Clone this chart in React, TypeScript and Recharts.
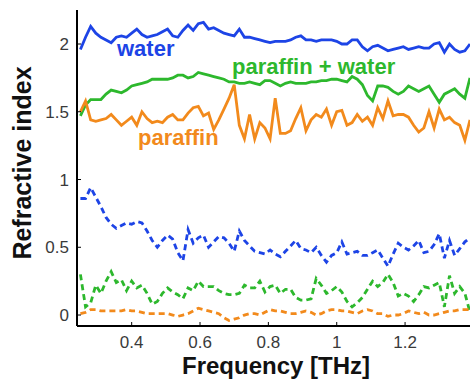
import { LineChart, Line, XAxis, YAxis } from "recharts";

const freq = [
  0.25, 0.265, 0.28, 0.295, 0.31, 0.325, 0.34, 0.355, 0.37, 0.385,
  0.4, 0.415, 0.43, 0.445, 0.46, 0.475, 0.49, 0.505, 0.52, 0.535,
  0.55, 0.565, 0.58, 0.595, 0.61, 0.625, 0.64, 0.655, 0.67, 0.685,
  0.7, 0.715, 0.73, 0.745, 0.76, 0.775, 0.79, 0.805, 0.82, 0.835,
  0.85, 0.865, 0.88, 0.895, 0.91, 0.925, 0.94, 0.955, 0.97, 0.985,
  1.0, 1.015, 1.03, 1.045, 1.06, 1.075, 1.09, 1.105, 1.12, 1.135,
  1.15, 1.165, 1.18, 1.195, 1.21, 1.225, 1.24, 1.255, 1.27, 1.285,
  1.3, 1.315, 1.33, 1.345, 1.36, 1.375, 1.39,
];

// real part (solid)
const water = [
  1.96, 2.05, 2.13, 2.08, 2.05, 2.03, 2.01, 2.05, 2.06, 2.05,
  2.08, 2.11, 2.07, 2.05, 2.06, 2.07, 2.09, 2.11, 2.06, 2.05,
  2.1, 2.14, 2.1, 2.15, 2.16, 2.11, 2.12, 2.1, 2.08, 2.07,
  2.06, 2.11, 2.05, 2.05, 2.04, 2.03, 2.02, 2.01, 2.02, 2.02,
  2.02, 2.03, 2.05, 2.06, 2.03, 2.03, 2.02, 2.03, 2.03, 2.03,
  2.02, 2.0, 2.0, 2.03, 2.03, 1.98, 1.95, 1.98, 1.99, 1.97,
  1.95, 1.96, 1.97, 1.98, 1.96, 1.97, 1.98, 1.97, 1.97, 2.0,
  2.01, 1.94, 2.0, 1.96, 1.94, 1.95, 2.0,
];
const paraffinWater = [
  1.47, 1.55, 1.59, 1.59, 1.59, 1.63, 1.66, 1.65, 1.64, 1.66,
  1.69, 1.7, 1.71, 1.72, 1.74, 1.74, 1.74, 1.74, 1.75, 1.77,
  1.77, 1.75, 1.76, 1.79, 1.78, 1.77, 1.76, 1.75, 1.74, 1.72,
  1.72, 1.71, 1.71, 1.72, 1.71, 1.7, 1.73, 1.73, 1.71, 1.69,
  1.71, 1.72, 1.71, 1.71, 1.71, 1.72, 1.72, 1.73, 1.73, 1.74,
  1.74, 1.73, 1.72, 1.76, 1.74, 1.7, 1.62, 1.58, 1.69, 1.69,
  1.68, 1.65, 1.63, 1.65, 1.69, 1.67, 1.65, 1.67, 1.69, 1.63,
  1.57, 1.63, 1.65, 1.67, 1.63, 1.6, 1.75,
];
const paraffin = [
  1.5, 1.58, 1.44, 1.43, 1.44, 1.45, 1.48, 1.44, 1.4, 1.43,
  1.46, 1.4, 1.5, 1.45, 1.42, 1.43, 1.42, 1.46, 1.48, 1.44,
  1.44, 1.49, 1.53, 1.54, 1.47, 1.49, 1.37, 1.44, 1.52, 1.6,
  1.7, 1.4, 1.3, 1.48, 1.3, 1.42, 1.38, 1.3, 1.6, 1.34,
  1.34, 1.36, 1.45, 1.53, 1.36, 1.44, 1.48, 1.46, 1.52, 1.4,
  1.5, 1.51, 1.4, 1.42, 1.48, 1.43, 1.46, 1.4, 1.53, 1.45,
  1.58, 1.47, 1.48, 1.48, 1.46, 1.4, 1.35, 1.38, 1.5, 1.38,
  1.52, 1.44, 1.46, 1.42, 1.4, 1.29, 1.44,
];

// dashed
const waterK = [
  0.86, 0.86, 0.94, 0.87, 0.8, 0.72, 0.67, 0.64, 0.66, 0.68,
  0.67, 0.69, 0.68, 0.62, 0.55, 0.5, 0.55, 0.59, 0.56, 0.46,
  0.4, 0.63, 0.53, 0.57, 0.59, 0.5, 0.54, 0.58, 0.57, 0.53,
  0.47, 0.62, 0.55, 0.51, 0.47, 0.46, 0.45, 0.48, 0.45, 0.43,
  0.47, 0.51, 0.55, 0.49, 0.48, 0.46, 0.5, 0.44, 0.39, 0.44,
  0.46, 0.54, 0.45, 0.46, 0.47, 0.44, 0.44, 0.46, 0.48, 0.42,
  0.36, 0.45, 0.53, 0.5, 0.48, 0.51, 0.55, 0.46, 0.47, 0.52,
  0.6, 0.42, 0.55, 0.44, 0.49, 0.54, 0.57,
];
const paraffinWaterK = [
  0.3, 0.06, 0.09, 0.22, 0.16, 0.25, 0.32, 0.24, 0.26, 0.18,
  0.25, 0.2, 0.22, 0.16, 0.08, 0.1, 0.16, 0.2, 0.17, 0.15,
  0.12, 0.2, 0.18, 0.25, 0.21, 0.21, 0.21, 0.18, 0.16, 0.15,
  0.15, 0.16, 0.22, 0.2, 0.2, 0.25, 0.17, 0.21, 0.22, 0.16,
  0.19, 0.19, 0.13, 0.11, 0.11, 0.12, 0.27, 0.22, 0.16, 0.18,
  0.21, 0.17, 0.1, 0.06, 0.09, 0.13, 0.19, 0.25, 0.21, 0.24,
  0.3, 0.24, 0.14, 0.16, 0.14, 0.1, 0.15, 0.21, 0.2, 0.22,
  0.24, 0.06, 0.29, 0.16, 0.21, 0.16, 0.02,
];
const paraffinK = [
  0.01, 0.02, 0.04, 0.04, 0.03, 0.03, 0.03, 0.03, 0.03, 0.04,
  0.03, 0.03, 0.02, 0.01, 0.01, 0.01, 0.01, 0.01, 0.0, -0.01,
  0.0, 0.01, 0.03, 0.05, 0.04, 0.03, 0.02, 0.01, -0.02, -0.04,
  -0.03, -0.02, 0.0, 0.01, 0.01, 0.0, 0.02, 0.04, 0.03, 0.03,
  0.02, 0.01, 0.01, 0.02, 0.03, 0.02, 0.0, 0.01, 0.03, 0.04,
  0.04, 0.03, 0.03, 0.02, 0.01, 0.03, 0.04, 0.03, 0.01, 0.01,
  -0.01, 0.0, 0.0, 0.01, 0.03, 0.02, 0.01, 0.02, 0.0, 0.0,
  0.01, 0.02, 0.03, 0.03, 0.04, 0.04, 0.04,
];

const xTicks = [0.4, 0.6, 0.8, 1, 1.2];
const yTicks = [0, 0.5, 1, 1.5, 2];

const BLUE = "#1d44e6";
const GREEN = "#2db82d";
const ORANGE = "#f28a1c";
const FONT = "'Liberation Sans', Arial, sans-serif";

const data = freq.map((f, i) => ({
  f,
  water: water[i],
  paraffinWater: paraffinWater[i],
  paraffin: paraffin[i],
  waterK: waterK[i],
  paraffinWaterK: paraffinWaterK[i],
  paraffinK: paraffinK[i],
}));

const tickStyle = { fontSize: 17, fill: "#3a3a3a", fontFamily: FONT };

export default function App() {
  return (
    <div style={{ position: "absolute", left: 0, top: 0 }}>
      <LineChart width={470} height={384} data={data} margin={{ top: 10, right: 0, bottom: 0, left: 0 }}>
        <XAxis
          dataKey="f"
          type="number"
          domain={[0.24, 1.39]}
          ticks={xTicks}
          allowDataOverflow
          height={58}
          tick={tickStyle}
          tickSize={-4}
          tickMargin={14}
          axisLine={{ stroke: "#000", strokeWidth: 2 }}
          tickLine={{ stroke: "#000" }}
        />
        <XAxis
          xAxisId="top"
          dataKey="f"
          type="number"
          domain={[0.24, 1.39]}
          orientation="top"
          height={0}
          tick={false}
          tickLine={false}
          axisLine={{ stroke: "#000", strokeWidth: 2 }}
        />
        <YAxis
          type="number"
          domain={[-0.081, 2.251]}
          ticks={yTicks}
          allowDataOverflow
          width={77}
          tick={tickStyle}
          tickSize={-4}
          tickMargin={12}
          axisLine={{ stroke: "#000", strokeWidth: 2 }}
          tickLine={{ stroke: "#000" }}
        />
        <Line dataKey="water" stroke={BLUE} strokeWidth={2.8} dot={false} isAnimationActive={false} />
        <Line dataKey="paraffinWater" stroke={GREEN} strokeWidth={2.8} dot={false} isAnimationActive={false} />
        <Line dataKey="paraffin" stroke={ORANGE} strokeWidth={2.8} dot={false} isAnimationActive={false} />
        <Line dataKey="waterK" stroke={BLUE} strokeWidth={2.8} strokeDasharray="6 4" dot={false} isAnimationActive={false} />
        <Line dataKey="paraffinWaterK" stroke={GREEN} strokeWidth={2.8} strokeDasharray="6 4" dot={false} isAnimationActive={false} />
        <Line dataKey="paraffinK" stroke={ORANGE} strokeWidth={2.8} strokeDasharray="6 4" dot={false} isAnimationActive={false} />
        <text x={117} y={56} fill={BLUE} fontSize={22} fontWeight="bold" fontFamily={FONT}>water</text>
        <text x={232} y={74} fill={GREEN} fontSize={22} fontWeight="bold" fontFamily={FONT}>paraffin + water</text>
        <text x={138} y={145} fill={ORANGE} fontSize={22} fontWeight="bold" fontFamily={FONT}>paraffin</text>
        <text x={276} y={374} textAnchor="middle" fill="#111" fontSize={24} fontWeight="bold" fontFamily={FONT}>
          Frequency [THz]
        </text>
        <text
          x={31}
          y={163}
          transform="rotate(-90 31 163)"
          textAnchor="middle"
          fill="#111"
          fontSize={25}
          fontWeight="bold"
          fontFamily={FONT}
        >
          Refractive index
        </text>
      </LineChart>
    </div>
  );
}
